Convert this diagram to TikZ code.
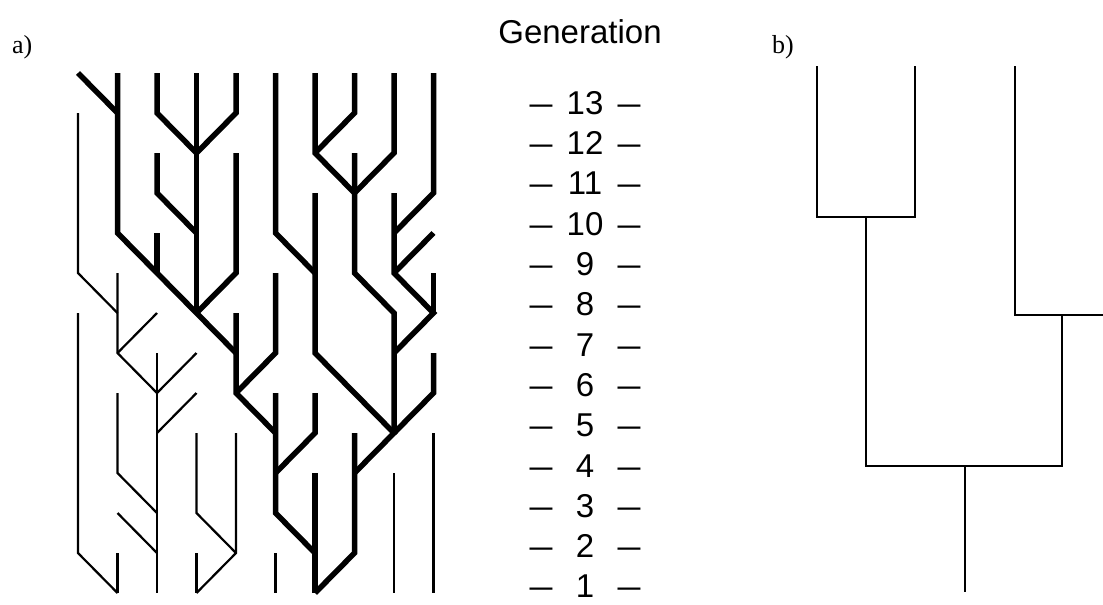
\documentclass[tikz,border=0pt]{standalone}
\usepackage{graphicx}
\usepackage{fontspec}
\setmainfont{Liberation Serif}
\newfontfamily\labfont{Liberation Sans}
\newcommand{\gdash}{\scalebox{1.25}[1]{–}}
\begin{document}
\begin{tikzpicture}[x=1pt,y=-1pt,
  thk/.style={line width=5.5pt,line cap=butt,line join=miter},
  thn/.style={line width=2.2pt,line cap=butt,line join=miter},
  rt/.style={line width=2.2pt,line cap=butt,line join=miter},
  gen/.style={inner sep=0pt,font=\labfont\fontsize{33}{33}\selectfont},
  panel/.style={inner sep=0pt,anchor=base west,font=\fontsize{26}{26}\selectfont}]
\useasboundingbox (0,0) rectangle (1103,605);
% lattice points
\foreach \c in {0,...,9}{
  \foreach \k in {0,...,13}{
    \coordinate (p\c-\k) at ({78+39.5*\c},{73+40*\k});
  }
}
% thick lineages
\draw[thk] (p0-0)--(p1-1);
\draw[thk] (p1-0)--(p1-4)--(p2-5)--(p3-6)--(p4-7);
\draw[thk] (p2-4)--(p2-5);
\draw[thk] (p2-0)--(p2-1)--(p3-2);
\draw[thk] (p3-0)--(p3-6);
\draw[thk] (p4-0)--(p4-1)--(p3-2);
\draw[thk] (p2-2)--(p2-3)--(p3-4);
\draw[thk] (p4-2)--(p4-5)--(p3-6);
\draw[thk] (p4-6)--(p4-8)--(p5-9);
\draw[thk] (p5-0)--(p5-4)--(p6-5);
\draw[thk] (p5-5)--(p5-7)--(p4-8);
\draw[thk] (p6-0)--(p6-2)--(p7-3);
\draw[thk] (p7-0)--(p7-1)--(p6-2);
\draw[thk] (p6-3)--(p6-7)--(p7-8)--(p8-9)--(p7-10);
\draw[thk] (p7-2)--(p7-5)--(p8-6)--(p8-9);
\draw[thk] (p8-0)--(p8-2)--(p7-3);
\draw[thk] (p9-0)--(p9-3)--(p8-4);
\draw[thk] (p8-3)--(p8-5)--(p9-6)--(p8-7);
\draw[thk] (p9-4)--(p8-5);
\draw[thk] (p9-5)--(p9-6);
\draw[thk] (p9-7)--(p9-8)--(p8-9);
\draw[thk] (p6-8)--(p6-9)--(p5-10);
\draw[thk] (p5-8)--(p5-11)--(p6-12);
\draw[thk] (p6-10)--(p6-13);
\draw[thk] (p7-9)--(p7-12)--(p6-13);
% thin lineages
\draw[thn] (p0-1)--(p0-5)--(p1-6);
\draw[thn] (p1-5)--(p1-7)--(p2-8);
\draw[thn] (p2-6)--(p1-7);
\draw[thn] (p0-6)--(p0-12)--(p1-13);
\draw[thn] (p2-7)--(p2-13);
\draw[thn] (p3-7)--(p2-8);
\draw[thn] (p3-8)--(p2-9);
\draw[thn] (p1-8)--(p1-10)--(p2-11);
\draw[thn] (p1-11)--(p2-12);
\draw[thn] (p1-12)--(p1-13);
\draw[thn] (p3-9)--(p3-11)--(p4-12);
\draw[thn] (p4-9)--(p4-12)--(p3-13);
\draw[thn] (p3-12)--(p3-13);
\draw[thn] (p5-12)--(p5-13);
\draw[thn] (p8-10)--(p8-13);
\draw[thn] (p9-9)--(p9-13);
% panel labels
\node[panel] (la) at (12,53) {a)};
\node[panel] (lb) at (772,53) {b)};
\node[gen,anchor=base] (gtitle) at (580,43) {Generation};
% generation scale
\foreach \g in {1,...,13}{
  \node[gen] (g\g) at (585,{103+40.3*(13-\g)})
    {\makebox[30pt]{\gdash}\makebox[58pt]{\g}\makebox[30pt]{\gdash}};
}
% b) tree
\coordinate (b1) at (817,66);
\coordinate (b2) at (915,66);
\coordinate (b3) at (1015,66);
\coordinate (bA) at (866,217);
\coordinate (bB) at (1062,315);
\coordinate (bR) at (965,466);
\coordinate (bE) at (1103,315);
\coordinate (bRoot) at (965,592);
\draw[rt] (b1) |- (bA -| b2) -- (b2);
\draw[rt] (bA) |- (bR -| bB) -- (bB);
\draw[rt] (b3) |- (bE);
\draw[rt] (bR) -- (bRoot);
\end{tikzpicture}
\end{document}
